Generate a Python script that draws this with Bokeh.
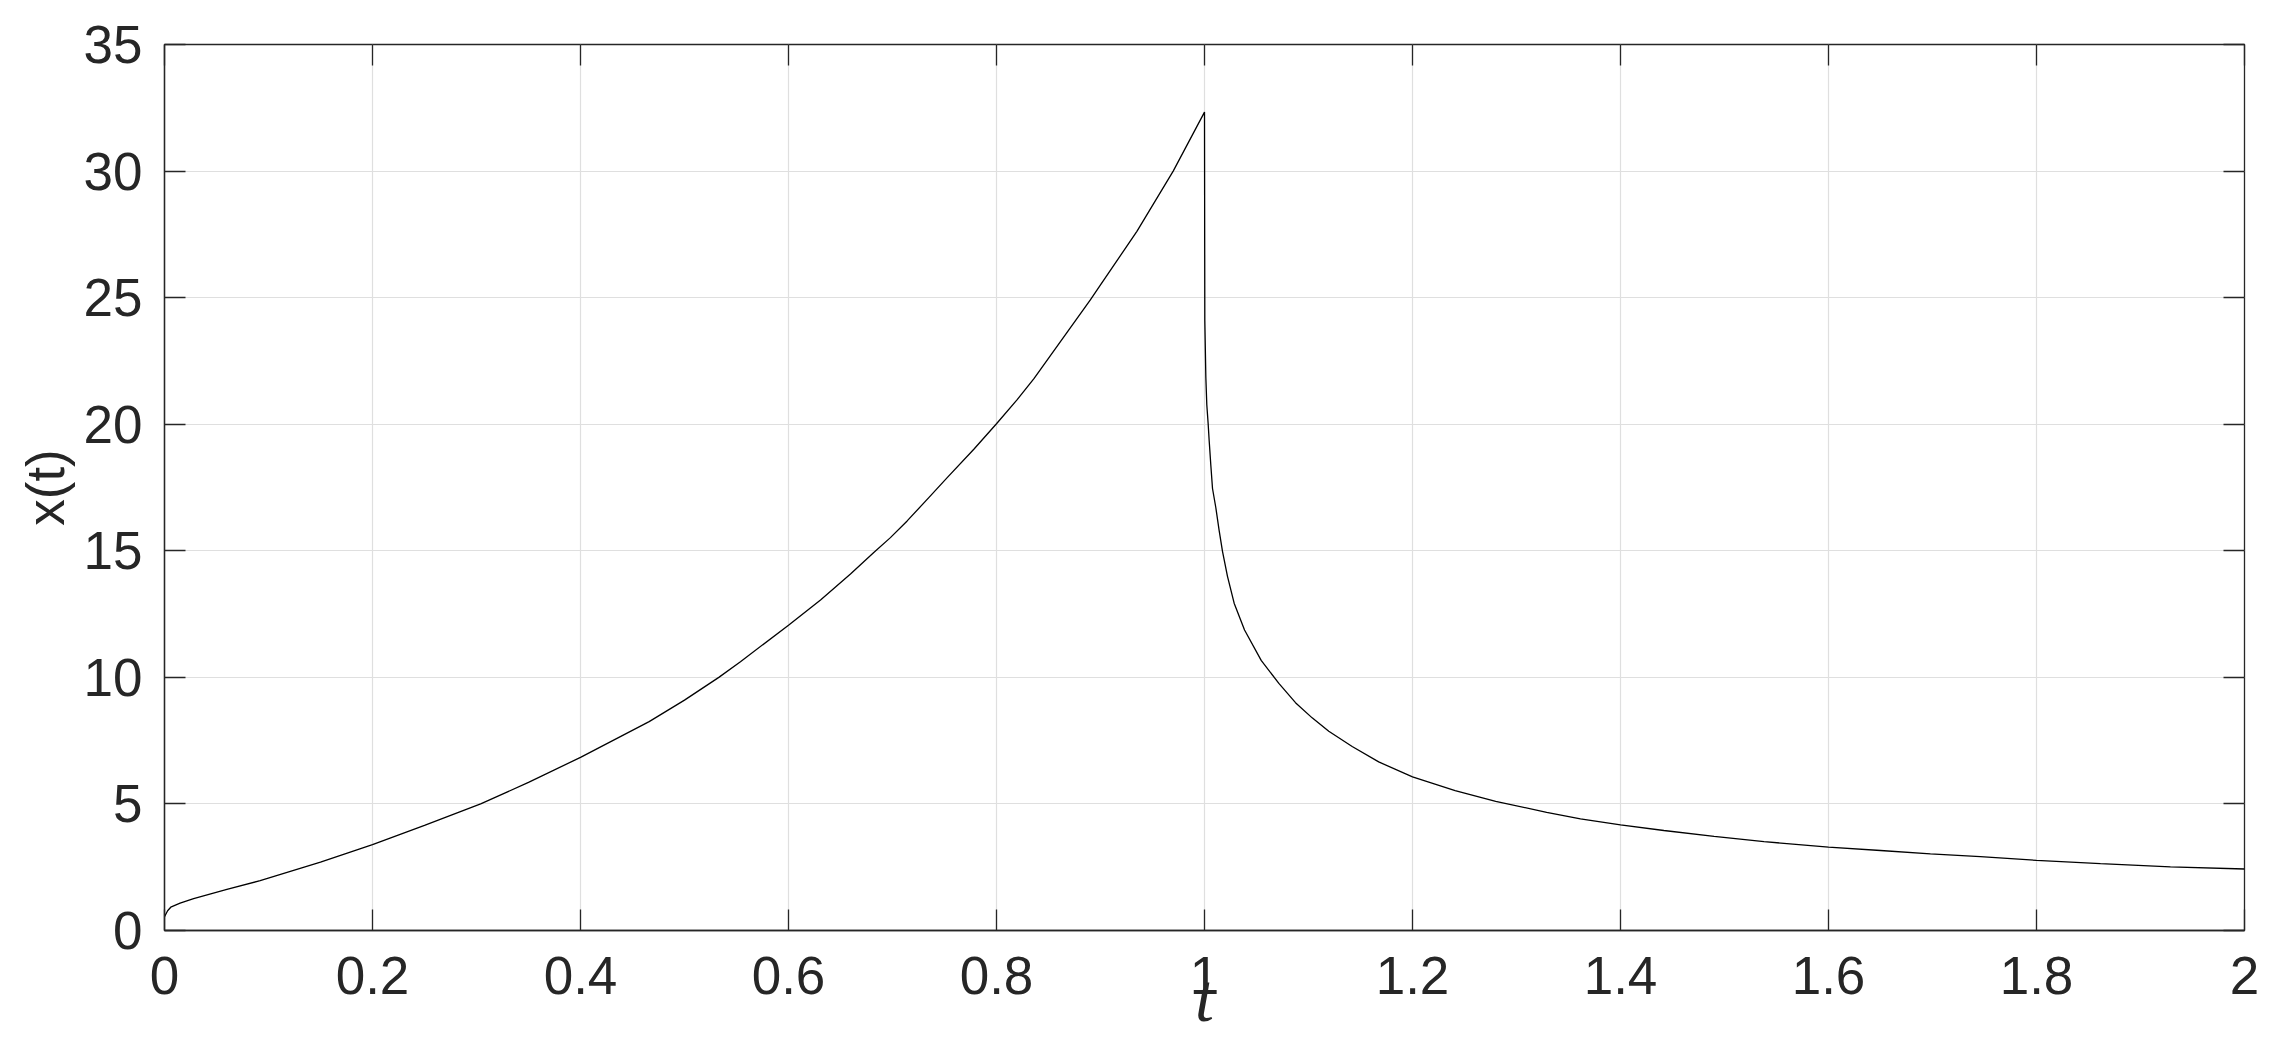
from bokeh.plotting import figure
from bokeh.models import Range1d, FixedTicker, LinearAxis, CustomJSTickFormatter
from bokeh.embed import file_html
from bokeh.resources import INLINE

# values
t_rise = [0.0, 0.003, 0.006, 0.015, 0.028, 0.06, 0.092, 0.15, 0.2, 0.25, 0.304, 0.35,
          0.4, 0.466, 0.5, 0.533, 0.5538, 0.6, 0.6308, 0.6596, 0.682, 0.698, 0.7141,
          0.7349, 0.7526, 0.7782, 0.8, 0.8199, 0.836, 0.8904, 0.9, 0.935, 0.9699, 1.0]
x_rise = [0.55, 0.78, 0.92, 1.08, 1.26, 1.62, 1.97, 2.7, 3.39, 4.15, 5.0, 5.85,
          6.84, 8.25, 9.1, 10.0, 10.62, 12.06, 13.06, 14.08, 14.93, 15.52, 16.18,
          17.1, 17.89, 19.01, 20.02, 20.97, 21.8, 24.92, 25.5, 27.62, 30.0, 32.33]
t_decay = [1.0003, 1.0013, 1.0022, 1.0035, 1.0045, 1.0061, 1.0077, 1.0109, 1.0141, 1.0173,
           1.0221, 1.0285, 1.0385, 1.0545, 1.0715, 1.0875, 1.1035, 1.1195, 1.142, 1.1675,
           1.2, 1.241, 1.28, 1.329, 1.3615, 1.4, 1.4417, 1.49, 1.538, 1.6, 1.65, 1.698,
           1.746, 1.8, 1.8615, 1.9288, 2.0]
x_decay = [24.1, 21.84, 20.78, 20.03, 19.35, 18.37, 17.46, 16.7, 15.8, 14.98,
           13.99, 12.93, 11.87, 10.67, 9.76, 9.0, 8.4, 7.87, 7.27, 6.66,
           6.07, 5.53, 5.1, 4.67, 4.41, 4.17, 3.95, 3.72, 3.51, 3.29, 3.16, 3.03,
           2.92, 2.77, 2.64, 2.51, 2.43]
x_ticks = [0, 0.2, 0.4, 0.6, 0.8, 1.0, 1.2, 1.4, 1.6, 1.8, 2.0]
y_ticks = [0, 5, 10, 15, 20, 25, 30, 35]

t_all = t_rise + t_decay
x_all = x_rise + x_decay

AX = "#262626"
FONT = "Liberation Sans"
FS = "53px"

p = figure(width=2280, height=1059, output_backend="svg", toolbar_location=None,
           x_range=Range1d(0, 2), y_range=Range1d(0, 35),
           min_border_left=164, min_border_right=36, min_border_top=44, min_border_bottom=129)
p.background_fill_color = "white"
p.border_fill_color = "white"
p.outline_line_color = AX
p.outline_line_width = 1.3

p.line(t_all, x_all, line_color="black", line_width=1.3)

fmt = CustomJSTickFormatter(code="return String(Math.round(tick*10)/10);")

for ax in (p.xaxis[0], p.yaxis[0]):
    ax.axis_line_color = AX
    ax.axis_line_width = 1.3
    ax.major_tick_line_color = AX
    ax.major_tick_line_width = 1.3
    ax.major_tick_in = 21
    ax.major_tick_out = 0
    ax.minor_tick_line_color = None
    ax.major_label_text_font = FONT
    ax.major_label_text_font_size = FS
    ax.major_label_text_color = AX

p.xaxis[0].ticker = FixedTicker(ticks=x_ticks)
p.xaxis[0].formatter = fmt
p.xaxis[0].major_label_standoff = 26
p.xaxis[0].axis_label = "t"
p.xaxis[0].axis_label_text_font = "Liberation Serif"
p.xaxis[0].axis_label_text_font_style = "italic"
p.xaxis[0].axis_label_text_font_size = "68px"
p.xaxis[0].axis_label_text_color = AX
p.xaxis[0].axis_label_standoff = -37

p.yaxis[0].ticker = FixedTicker(ticks=y_ticks)
p.yaxis[0].major_label_standoff = 22
p.yaxis[0].axis_label = "x(t)"
p.yaxis[0].axis_label_text_font = FONT
p.yaxis[0].axis_label_text_font_size = FS
p.yaxis[0].axis_label_text_font_style = "normal"
p.yaxis[0].axis_label_text_color = AX
p.yaxis[0].axis_label_standoff = 6

for loc, ticks in (("above", x_ticks), ("right", y_ticks)):
    a = LinearAxis(ticker=FixedTicker(ticks=ticks))
    a.axis_line_color = None
    a.major_tick_line_color = AX
    a.major_tick_line_width = 1.3
    a.major_tick_in = 21
    a.major_tick_out = 0
    a.minor_tick_line_color = None
    a.major_label_text_font_size = "0px"
    a.major_label_standoff = 0
    p.add_layout(a, loc)

p.xgrid.ticker = FixedTicker(ticks=x_ticks)
p.ygrid.ticker = FixedTicker(ticks=y_ticks)
for g in (p.xgrid[0], p.ygrid[0]):
    g.grid_line_color = "#dfdfdf"
    g.grid_line_width = 1.2

open("out.html", "w").write(file_html(p, INLINE))
